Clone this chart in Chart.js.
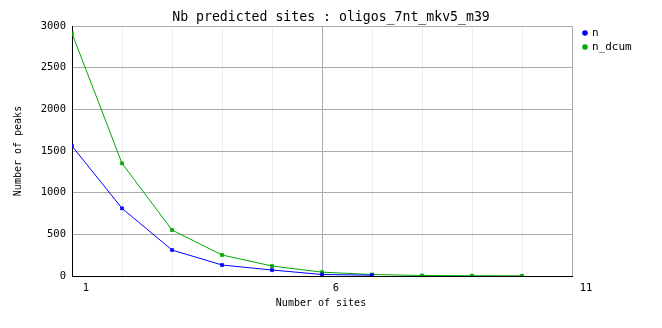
<!DOCTYPE html>
<html><head><meta charset="utf-8">
<script src="https://cdn.jsdelivr.net/npm/chart.js@4"></script>
<style>html,body{margin:0;padding:0;background:#fff}#wrap{width:662px;height:328px}</style>
</head><body><div id="wrap"><canvas id="c" width="662" height="328"></canvas></div>
<script>
const titleText = "Nb predicted sites : oligos_7nt_mkv5_m39";
const xTitle = "Number of sites";
const yTitle = "Number of peaks";
const xLabels = [1, 6, 11];
const nSites = [1, 2, 3, 4, 5, 6, 7];
const nValues = [1560, 812, 312, 132, 72, 18, 10];
const dcumSites = [1, 2, 3, 4, 5, 6, 7, 8, 9, 10];
const dcumValues = [2912, 1352, 552, 252, 120, 46, 18, 6, 3, 2];
const seriesNames = ["n", "n_dcum"];
const seriesColors = ["#0000ff", "#00a800"];

const FONT = "'DejaVu Sans Mono', 'Liberation Mono', monospace";

const overlay = {
  id: 'overlay',
  afterDraw(chart) {
    const ctx = chart.ctx, a = chart.chartArea;
    ctx.save();
    ctx.fillStyle = '#000';
    ctx.font = "13.2px " + FONT;
    ctx.textAlign = 'center'; ctx.textBaseline = 'middle';
    ctx.fillText(titleText, 331, 18);
    ctx.font = "10px " + FONT;
    ctx.fillText(xTitle, 321, 303);
    ctx.save();
    ctx.translate(18, 151);
    ctx.rotate(-Math.PI / 2);
    ctx.fillText(yTitle, 0, 0);
    ctx.restore();
    // legend
    ctx.textAlign = 'left';
    ctx.font = "11px " + FONT;
    seriesNames.forEach((nm, i) => {
      const y = 33 + i * 14;
      ctx.fillStyle = seriesColors[i];
      ctx.beginPath(); ctx.arc(585, y, 2.8, 0, Math.PI * 2); ctx.fill();
      ctx.fillStyle = '#000';
      ctx.fillText(nm, 592, y);
    });
    ctx.restore();
  }
};

new Chart(document.getElementById('c'), {
  type: 'line',
  data: {
    datasets: [
      { label: seriesNames[0], data: nSites.map((x, i) => ({x, y: nValues[i]})),
        borderColor: seriesColors[0], backgroundColor: seriesColors[0], borderWidth: 1,
        pointStyle: 'rect', pointRadius: 2.6, pointBorderWidth: 0, tension: 0 },
      { label: seriesNames[1], data: dcumSites.map((x, i) => ({x, y: dcumValues[i]})),
        borderColor: seriesColors[1], backgroundColor: seriesColors[1], borderWidth: 1,
        pointStyle: 'rect', pointRadius: 2.6, pointBorderWidth: 0, tension: 0 }
    ]
  },
  options: {
    responsive: false, animation: false, devicePixelRatio: 1,
    layout: { padding: { left: 0, right: 90, top: 26, bottom: 0 } },
    plugins: { legend: { display: false }, title: { display: false }, tooltip: { enabled: false } },
    scales: {
      x: {
        type: 'linear', min: 1, max: 11,
        afterFit(s) { s.height = 52; },
        ticks: {
          stepSize: 1, autoSkip: false, maxRotation: 0, padding: 6, labelOffset: 14,
          color: '#000', font: { family: FONT, size: 10.5 },
          callback: v => xLabels.includes(v) ? String(v) : ''
        },
        grid: {
          drawTicks: false,
          color: c => (c.tick && (c.tick.value === 6 || c.tick.value === 11)) ? '#aaaaaa' : '#eeeeee',
          lineWidth: 1
        },
        border: { color: '#000', width: 1 }
      },
      y: {
        min: 0, max: 3000,
        afterFit(s) { s.width = 72; },
        ticks: { stepSize: 500, padding: 6, color: '#000', font: { family: FONT, size: 10.5 },
          callback: v => String(v) },
        grid: { drawTicks: false, color: '#aaaaaa', lineWidth: 1 },
        border: { color: '#000', width: 1 }
      }
    }
  },
  plugins: [overlay]
});
</script></body></html>
